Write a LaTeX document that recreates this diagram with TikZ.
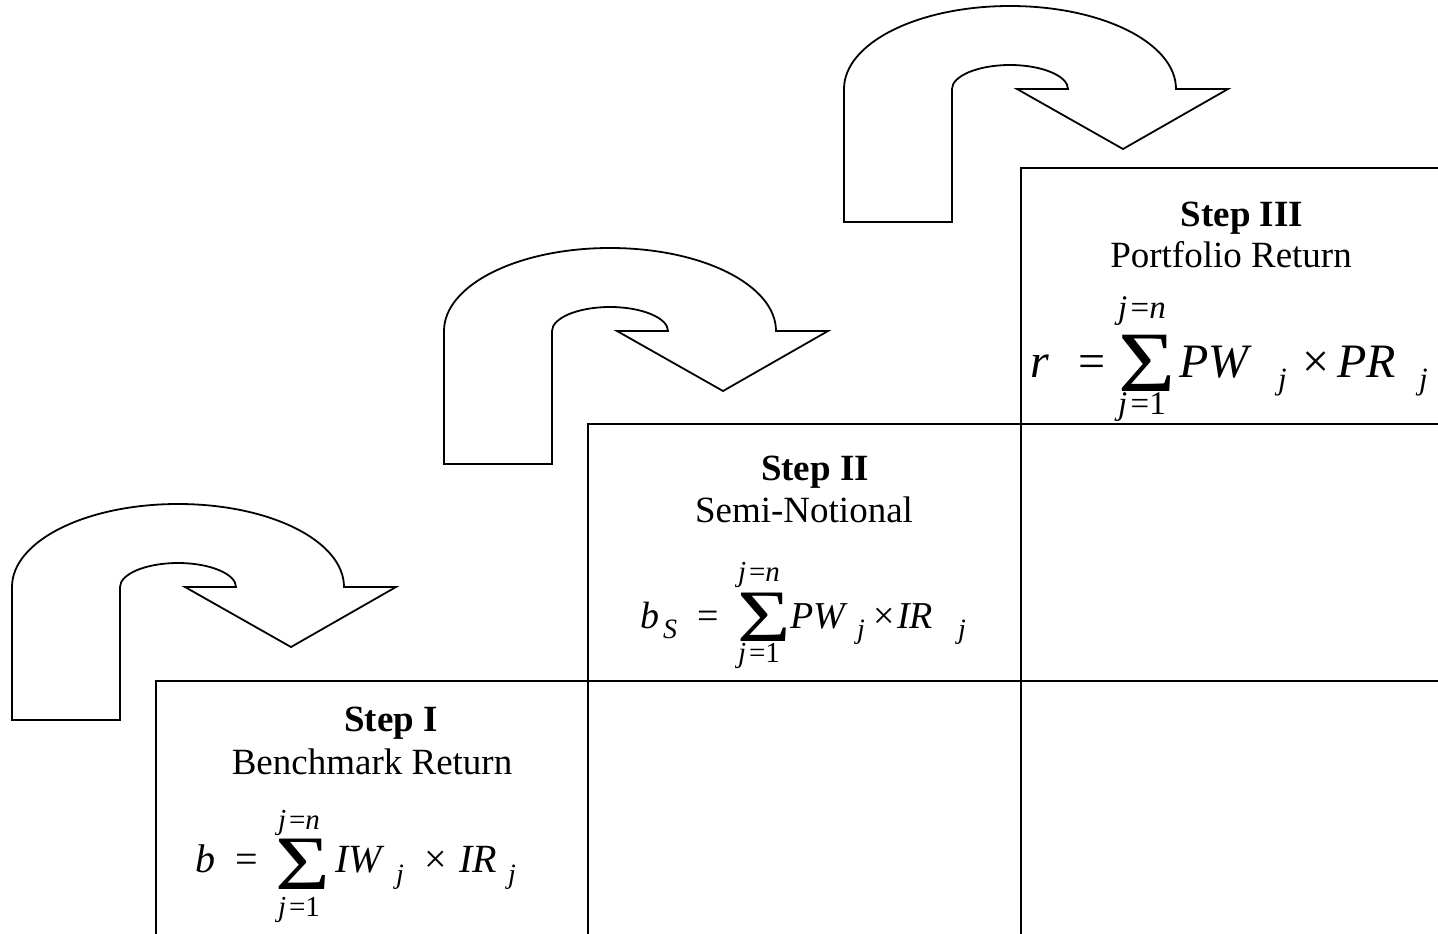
\documentclass[tikz,border=0pt]{standalone}
\usepackage{fontspec}
\usepackage{graphicx}
\setmainfont{Liberation Serif}
\tikzset{
  gridline/.style={line width=1.8pt},
  uarrow/.style={draw, line width=1.8pt, fill=white, line join=miter},
  ttl/.style={inner sep=0pt, anchor=base, font=\fontsize{37}{44}\selectfont\bfseries},
  subttl/.style={inner sep=0pt, anchor=base, font=\fontsize{37}{44}\selectfont},
  fa/.style={inner sep=0pt, anchor=base west, font=\fontsize{40}{46}\selectfont\itshape},
  ra/.style={inner sep=0pt, anchor=base west, font=\fontsize{40}{46}\selectfont},
  sa/.style={inner sep=0pt, anchor=base west, font=\fontsize{28}{32}\selectfont\itshape},
  siga/.style={inner sep=0pt, anchor=base west, font=\fontsize{77}{84}\selectfont},
  lima/.style={inner sep=0pt, anchor=base, font=\fontsize{29}{34}\selectfont},
  fc/.style={inner sep=0pt, anchor=base west, font=\fontsize{38}{44}\selectfont\itshape},
  rc/.style={inner sep=0pt, anchor=base west, font=\fontsize{38}{44}\selectfont},
  sigc/.style={inner sep=0pt, anchor=base west, font=\fontsize{74}{80}\selectfont},
  fb/.style={inner sep=0pt, anchor=base west, font=\fontsize{48}{56}\selectfont\itshape},
  rb/.style={inner sep=0pt, anchor=base west, font=\fontsize{48}{56}\selectfont},
  sb/.style={inner sep=0pt, anchor=base west, font=\fontsize{31}{36}\selectfont\itshape},
  sigb/.style={inner sep=0pt, anchor=base west, font=\fontsize{86}{94}\selectfont},
  limb/.style={inner sep=0pt, anchor=base, font=\fontsize{33}{38}\selectfont}
}
\newcommand{\uturnarrow}{%
  \path[uarrow] (12,720) -- (12,587)
    .. controls (12,541) and (86,504) .. (178,504)
    .. controls (270,504) and (344,541) .. (344,587)
    -- (396,587) -- (291,647) -- (185,587) -- (236,587)
    .. controls (236,574) and (210,563) .. (178,563)
    .. controls (146,563) and (120,574) .. (120,587)
    -- (120,720) -- cycle;}
\newcommand{\bigsig}[1]{\scalebox{#1}[1]{Σ}}
\begin{document}
\begin{tikzpicture}[x=1pt,y=-1pt]
\useasboundingbox (0,0) rectangle (1438,934);
% grid
\draw[gridline] (156,934) -- (156,681) -- (1438,681);
\draw[gridline] (588,934) -- (588,424) -- (1438,424);
\draw[gridline] (1021,934) -- (1021,168) -- (1438,168);
% arrows
\begin{scope}\uturnarrow\end{scope}
\begin{scope}[shift={(432,-256)}]\uturnarrow\end{scope}
\begin{scope}[shift={(832,-498)}]\uturnarrow\end{scope}
% Step I
\node[ttl] (t1) at (391,731) {Step I};
\node[subttl] (s1) at (372,774) {Benchmark Return};
\node[fa] (b1) at (195,872) {b};
\node[ra] (e1) at (235,872) {=};
\node[siga] (g1) at (275,889) {\bigsig{1.22}};
\node[lima] (u1) at (299,829) {\textit{j}\hspace{0.1em}=\textit{n}};
\node[lima] (l1) at (299,916) {\textit{j}\hspace{0.1em}=1};
\node[fa] (w1) at (335,872) {IW};
\node[sa] (j1a) at (396,883) {j};
\node[ra] (x1) at (424,872) {×};
\node[fa] (r1) at (459,872) {IR};
\node[sa] (j1b) at (508,883) {j};
% Step II
\node[ttl] (t2) at (815,480) {Step II};
\node[subttl] (s2) at (804,522) {Semi-Notional};
\node[fc] (b2) at (640,628) {b};
\node[sa] (sub2) at (663,638) {S};
\node[rc] (e2) at (697,628) {=};
\node[sigc] (g2) at (737,641) {\bigsig{1.24}};
\node[lima] (u2) at (759,581) {\textit{j}\hspace{0.1em}=\textit{n}};
\node[lima] (l2) at (759,662) {\textit{j}\hspace{0.1em}=1};
\node[fc] (w2) at (790,628) {PW};
\node[sa] (j2a) at (857,638) {j};
\node[rc] (x2) at (873,628) {×};
\node[fc] (r2) at (897,628) {IR};
\node[sa] (j2b) at (958,638) {j};
% Step III
\node[ttl] (t3) at (1242,226) {Step III};
\node[subttl] (s3) at (1231,267) {Portfolio Return};
\node[fb] (b3) at (1030,377) {r};
\node[rb] (e3) at (1078,377) {=};
\node[sigb] (g3) at (1118,391) {\bigsig{1.14}};
\node[limb] (u3) at (1142,318) {\textit{j}\hspace{0.1em}=\textit{n}};
\node[limb] (l3) at (1142,414) {\textit{j}\hspace{0.1em}=1};
\node[fb] (w3) at (1179,377) {PW};
\node[sb] (j3a) at (1278,389) {j};
\node[rb] (x3) at (1302,377) {×};
\node[fb] (r3) at (1337,377) {PR};
\node[sb] (j3b) at (1419,389) {j};
\end{tikzpicture}
\end{document}
